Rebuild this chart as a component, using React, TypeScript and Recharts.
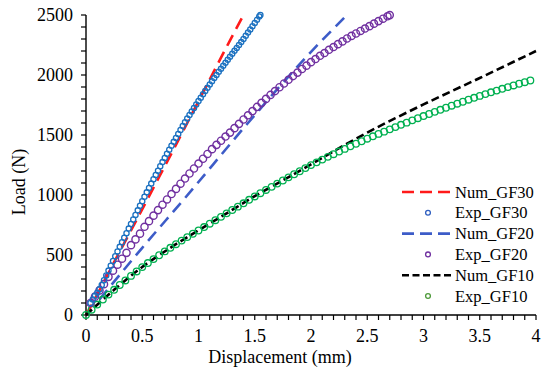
import React from "react";
import { ComposedChart, Line, Scatter, XAxis, YAxis } from "recharts";

// readings taken off the figure: [displacement mm, load N]
const numGF30: [number, number][] = [
  [0, 0], [0.1, 170], [0.25, 440], [0.42, 740], [0.65, 1150], [0.9, 1600], [1.12, 2000], [1.27, 2270], [1.4, 2500],
];

const expGF30: [number, number][] = [
  [0.04, 100], [0.06, 130], [0.08, 160], [0.1, 185], [0.12, 215], [0.14, 250], [0.16, 290], [0.18, 330], [0.2, 370],
  [0.22, 410], [0.24, 450], [0.26, 490], [0.28, 530], [0.3, 568], [0.32, 606], [0.34, 644], [0.36, 682], [0.38, 720],
  [0.4, 758], [0.42, 796], [0.44, 834], [0.46, 872], [0.48, 910], [0.5, 948], [0.52, 985], [0.54, 1022], [0.56, 1059],
  [0.58, 1095], [0.6, 1131], [0.62, 1167], [0.64, 1203], [0.66, 1239], [0.68, 1274], [0.7, 1309], [0.72, 1344],
  [0.74, 1377], [0.76, 1410], [0.78, 1443], [0.8, 1476], [0.82, 1509], [0.84, 1542], [0.86, 1575], [0.88, 1607],
  [0.9, 1637], [0.92, 1667], [0.94, 1696], [0.96, 1725], [0.98, 1754], [1.0, 1783], [1.02, 1811], [1.04, 1839],
  [1.06, 1867], [1.08, 1894], [1.1, 1921], [1.12, 1948], [1.14, 1975], [1.16, 2001], [1.18, 2027], [1.2, 2053],
  [1.22, 2078], [1.24, 2103], [1.26, 2128], [1.28, 2153], [1.3, 2178], [1.32, 2202], [1.34, 2226], [1.36, 2250],
  [1.38, 2274], [1.4, 2300], [1.42, 2327], [1.44, 2354], [1.46, 2380], [1.48, 2407], [1.5, 2434], [1.52, 2460],
  [1.54, 2487], [1.55, 2500],
];

const numGF20: [number, number][] = [
  [0.12, 130], [0.5, 560], [0.88, 975], [1.44, 1600], [1.99, 2183], [2.32, 2500],
];

const expGF20: [number, number][] = [
  [0.04, 100], [0.08, 153], [0.12, 205], [0.16, 257], [0.2, 318], [0.24, 369], [0.28, 419], [0.32, 469], [0.36, 518],
  [0.4, 582], [0.44, 630], [0.48, 678], [0.52, 735], [0.56, 782], [0.6, 828], [0.64, 874], [0.68, 919], [0.72, 963],
  [0.76, 1008], [0.8, 1051], [0.84, 1094], [0.88, 1137], [0.92, 1179], [0.96, 1221], [1.0, 1262], [1.04, 1302],
  [1.08, 1342], [1.12, 1382], [1.16, 1418], [1.2, 1452], [1.24, 1487], [1.28, 1520], [1.32, 1557], [1.36, 1593],
  [1.4, 1629], [1.44, 1664], [1.48, 1699], [1.52, 1734], [1.56, 1768], [1.6, 1801], [1.64, 1834], [1.68, 1866],
  [1.72, 1898], [1.76, 1929], [1.8, 1960], [1.84, 1991], [1.88, 2020], [1.92, 2050], [1.96, 2078], [2.0, 2107],
  [2.04, 2133], [2.08, 2160], [2.12, 2183], [2.16, 2210], [2.2, 2233], [2.24, 2257], [2.28, 2280], [2.32, 2304],
  [2.36, 2326], [2.4, 2346], [2.44, 2367], [2.48, 2387], [2.52, 2407], [2.56, 2428], [2.6, 2449], [2.64, 2469],
  [2.68, 2489], [2.7, 2499],
];

const numGF10: [number, number][] = [
  [0, 0], [0.25, 210], [0.5, 400], [0.75, 560], [1.0, 705], [1.25, 847], [1.5, 990], [1.75, 1122], [2.0, 1255],
  [2.25, 1390], [2.5, 1520], [2.75, 1640], [3.0, 1755], [3.25, 1865], [3.5, 1975], [3.75, 2087], [4.0, 2200],
];

const expGF10: [number, number][] = [
  [0, 0], [0.05, 44], [0.1, 87], [0.15, 129], [0.2, 170], [0.25, 210], [0.3, 250], [0.35, 288], [0.4, 326],
  [0.45, 363], [0.5, 399], [0.55, 433], [0.6, 466], [0.65, 498], [0.7, 530], [0.75, 560], [0.8, 590], [0.85, 620],
  [0.9, 649], [0.95, 677], [1.0, 704], [1.05, 733], [1.1, 761], [1.15, 790], [1.2, 818], [1.25, 847], [1.3, 875],
  [1.35, 903], [1.4, 931], [1.45, 960], [1.5, 988], [1.55, 1015], [1.6, 1042], [1.65, 1068], [1.7, 1095],
  [1.75, 1121], [1.8, 1147], [1.85, 1173], [1.9, 1198], [1.95, 1224], [2.0, 1249], [2.05, 1272], [2.1, 1295],
  [2.15, 1318], [2.2, 1340], [2.25, 1362], [2.3, 1384], [2.35, 1406], [2.4, 1427], [2.45, 1448], [2.5, 1469],
  [2.55, 1489], [2.6, 1509], [2.65, 1528], [2.7, 1547], [2.75, 1566], [2.8, 1585], [2.85, 1603], [2.9, 1622],
  [2.95, 1640], [3.0, 1658], [3.05, 1675], [3.1, 1693], [3.15, 1710], [3.2, 1727], [3.25, 1744], [3.3, 1761],
  [3.35, 1777], [3.4, 1794], [3.45, 1810], [3.5, 1826], [3.55, 1841], [3.6, 1856], [3.65, 1870], [3.7, 1885],
  [3.75, 1899], [3.8, 1913], [3.85, 1927], [3.9, 1940], [3.95, 1954],
];

const xMajor = [0, 0.5, 1, 1.5, 2, 2.5, 3, 3.5, 4];
const yMajor = [0, 500, 1000, 1500, 2000, 2500];

// minor ticks every 0.1 mm / 100 N, only majors get a label
const xTicks = Array.from({ length: 41 }, (_, i) => i / 10);
const yTicks = Array.from({ length: 26 }, (_, i) => i * 100);

const FONT = '"Liberation Serif", "Times New Roman", serif';

const toXY = (pts: [number, number][]) => pts.map(([x, y]) => ({ x, y }));

const ring = (color: string, r: number, w: number) => (p: any) =>
  <circle cx={p.cx} cy={p.cy} r={r} fill="none" stroke={color} strokeWidth={w} />;

const XTick = (p: any) => {
  const v = p.payload.value;
  if (!xMajor.some((m) => Math.abs(m - v) < 1e-6)) return <g />;
  return (
    <text x={p.x} y={p.y} dy="0.71em" textAnchor="middle" fontSize={18} fontFamily={FONT} fill="#000">
      {String(Math.round(v * 10) / 10)}
    </text>
  );
};

const YTick = (p: any) => {
  const v = p.payload.value;
  if (!yMajor.includes(v)) return <g />;
  return (
    <text x={p.x} y={p.y} dy="0.35em" textAnchor="end" fontSize={18} fontFamily={FONT} fill="#000">
      {v}
    </text>
  );
};

const legendItems = [
  { name: "Num_GF30", kind: "line", color: "#FF1A1A", dash: "12 6" },
  { name: "Exp_GF30", kind: "dot", color: "#2F5FC0" },
  { name: "Num_GF20", kind: "line", color: "#3D5CC8", dash: "12 6" },
  { name: "Exp_GF20", kind: "dot", color: "#7030A0" },
  { name: "Num_GF10", kind: "line", color: "#000000", dash: "7 3.5" },
  { name: "Exp_GF10", kind: "dot", color: "#4E9A3A" },
];

export default function App() {
  return (
    <div style={{ position: "absolute", left: 0, top: 0, width: 550, height: 370, background: "#fff" }}>
      <ComposedChart width={550} height={370} margin={{ top: 15, right: 14, bottom: 0, left: 0 }}>
        <XAxis
          type="number" dataKey="x" domain={[0, 4]} ticks={xTicks} interval={0} height={55}
          tick={XTick} tickSize={5} tickMargin={9}
          axisLine={{ stroke: "#000", strokeWidth: 1.4 }} tickLine={{ stroke: "#000", strokeWidth: 1.2 }}
        />
        <YAxis
          type="number" dataKey="y" domain={[0, 2500]} ticks={yTicks} interval={0} width={86}
          tick={YTick} tickSize={5} tickMargin={8}
          axisLine={{ stroke: "#000", strokeWidth: 1.4 }} tickLine={{ stroke: "#000", strokeWidth: 1.2 }}
        />
        <Line data={toXY(numGF30)} dataKey="y" type="monotone" stroke="#FF1A1A" strokeWidth={2.6}
          strokeDasharray="12 7" dot={false} isAnimationActive={false} />
        <Line data={toXY(numGF20)} dataKey="y" type="monotone" stroke="#3D5CC8" strokeWidth={2.6}
          strokeDasharray="12 7" dot={false} isAnimationActive={false} />
        <Line data={toXY(numGF10)} dataKey="y" type="monotone" stroke="#000" strokeWidth={2.6}
          strokeDasharray="8 4" dot={false} isAnimationActive={false} />
        <Scatter data={toXY(expGF10)} dataKey="y" shape={ring("#00B050", 3.3, 1.3)} isAnimationActive={false} />
        <Scatter data={toXY(expGF20)} dataKey="y" shape={ring("#7030A0", 3.6, 1.4)} isAnimationActive={false} />
        <Scatter data={toXY(expGF30)} dataKey="y" shape={ring("#1A70C0", 2.6, 1.3)} isAnimationActive={false} />
      </ComposedChart>

      <svg width={550} height={370} style={{ position: "absolute", left: 0, top: 0, pointerEvents: "none" }}>
        <text x={280} y={357} textAnchor="middle" dominantBaseline="central" fontSize={18} fontFamily={FONT}>
          Displacement (mm)
        </text>
        <text x={19} y={182} transform="rotate(-90 19 182)" textAnchor="middle" dominantBaseline="central"
          fontSize={18} fontFamily={FONT}>
          Load (N)
        </text>
        {legendItems.map((it, i) => {
          const y = 192 + i * 20.8;
          return (
            <g key={it.name}>
              {it.kind === "line" ? (
                <line x1={402} x2={452} y1={y} y2={y} stroke={it.color} strokeWidth={2.6} strokeDasharray={it.dash} />
              ) : (
                <circle cx={428} cy={y} r={2.4} fill="none" stroke={it.color} strokeWidth={1.3} />
              )}
              <text x={455} y={y} dominantBaseline="central" fontSize={16.5} fontFamily={FONT}>
                {it.name}
              </text>
            </g>
          );
        })}
      </svg>
    </div>
  );
}
